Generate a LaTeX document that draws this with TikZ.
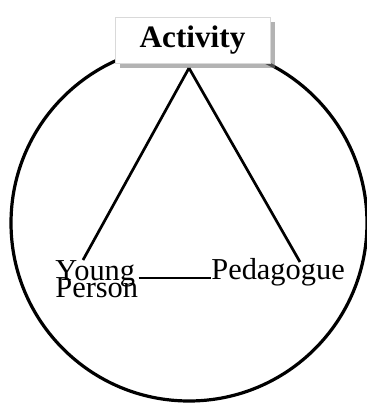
\documentclass[tikz,border=0pt]{standalone}
\usepackage{fontspec}
\setmainfont{Liberation Serif}
\usetikzlibrary{positioning, shadows}

\begin{document}
\begin{tikzpicture}[
    x=0.5pt, y=-0.5pt,
    ring/.style={draw, line width=1.6pt},
    side/.style={draw, line width=1.35pt},
    titlebox/.style={rectangle, fill=white, draw=black!15, line width=0.4pt, minimum width=77.5pt, minimum height=23pt,
        font=\fontsize{15.6}{18}\selectfont\bfseries,
        drop shadow={shadow xshift=2.5pt, shadow yshift=-2.5pt, fill=black!50, opacity=0.6}},
    corner/.style={inner sep=0pt, font=\fontsize{15.2}{18}\selectfont},
]
    \useasboundingbox (0,0) rectangle (367,403);

    % circle round the triangle
    \node[ring, circle, minimum size=178pt, inner sep=0pt] (world) at (189,223) {};

    \node[corner, anchor=base west, align=left] (young) at (55,297) {Young\\[-9.5pt]Person};
    \node[corner, anchor=base west] (pedagogue) at (211,279) {Pedagogue};

    \coordinate (apex) at (189,68);
    \coordinate (yend) at (83,260);
    \coordinate (pend) at (300,262);

    \draw[side] (apex) -- (yend);
    \draw[side] (apex) -- (pend);
    \draw[side] (young.east |- 0,278) -- (pedagogue.west |- 0,278);

    \node[titlebox] (activity) at (192.5,40) {Activity};
\end{tikzpicture}
\end{document}
